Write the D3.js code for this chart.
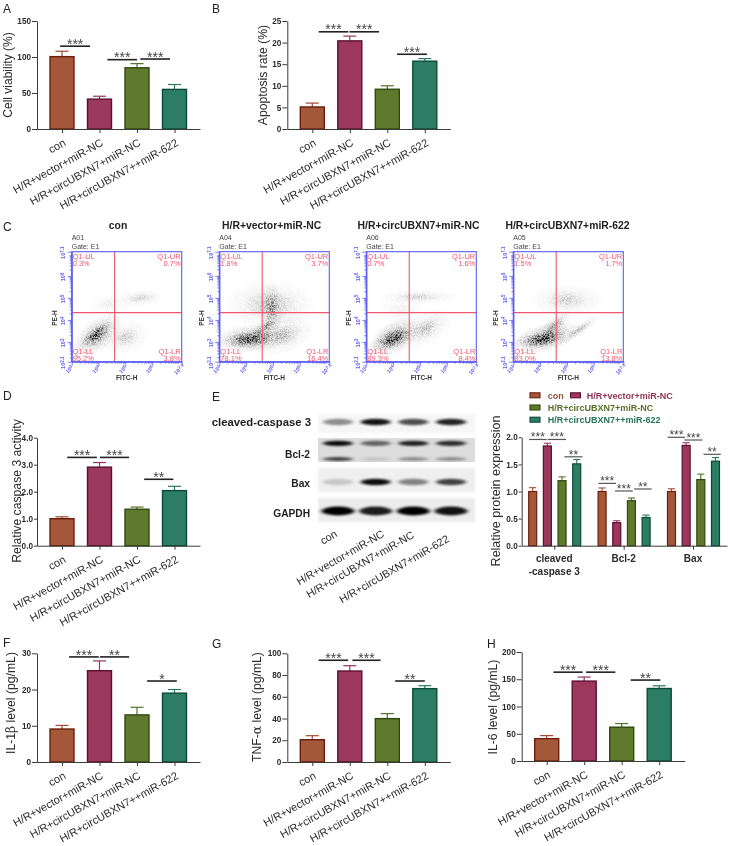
<!DOCTYPE html>
<html><head><meta charset="utf-8">
<script src="https://cdn.jsdelivr.net/npm/d3@7/dist/d3.min.js"></script>
<style>
html,body{margin:0;padding:0;background:#fff}
svg{display:block;filter:blur(0.4px)}
text{font-family:"Liberation Sans",Arial,sans-serif}
</style></head><body><svg id="c" width="730" height="846"></svg>
<script>
const categories=["con","H/R+vector+miR-NC","H/R+circUBXN7+miR-NC","H/R+circUBXN7++miR-622"];
const flowTitles=["con","H/R+vector+miR-NC","H/R+circUBXN7+miR-NC","H/R+circUBXN7+miR-622"];
const blotLabels=["con","H/R+vector+miR-NC","H/R+circUBXN7+miR-NC","H/R+circUBXN7+miR-622"];
const fills=["#a5573a","#9b385c","#5f7a2c","#2b7e63"];
const strokes=["#6b1f0c","#5c1030","#2e4a0e","#0b4a37"];
const errColors=["#a04a30","#96355f","#55712a","#2a7a60"];

const viabilityVals=[100.5,41.5,85,55], viabilityErr=[7.5,4,5.8,6.8];
const apoptosisVals=[5.1,20.4,9.2,15.7], apoptosisErr=[0.9,1.1,0.8,0.6];
const caspaseVals=[1.0,2.91,1.35,2.04], caspaseErr=[0.07,0.17,0.08,0.16];
const il1Vals=[9.1,25.2,13,19], il1Err=[1,2.7,2.1,1];
const tnfVals=[20.5,83.7,39.9,67.5], tnfErr=[3.7,4.9,4.6,2.7];
const il6Vals=[41,146.6,62,133], il6Err=[5.6,7.4,6.7,5];

const viabilityTicks=[0,50,100,150], apoptosisTicks=[0,5,10,15,20,25], caspaseTicks=[0,1,2,3,4];
const il1Ticks=[0,10,20,30], tnfTicks=[0,20,40,60,80,100], il6Ticks=[0,50,100,150,200];

// significance: from index, to index, value level, stars
const viabilitySig=[[-0.05,0.75,115,"***"],[1.21,2.0,96.3,"***"],[2.09,2.88,97.2,"***"]];
const apoptosisSig=[[0.17,0.96,22.5,"***"],[0.99,1.78,22.5,"***"],[2.26,3.06,17.3,"***"]];
const caspaseSig=[[0.14,0.93,3.27,"***"],[1.01,1.79,3.27,"***"],[2.19,2.97,2.46,"**"]];
const il1Sig=[[0.19,0.98,29,"***"],[1.01,1.79,29,"**"],[2.27,3.06,22.35,"*"]];
const tnfSig=[[0.17,0.96,93.6,"***"],[1.07,1.82,93.6,"***"],[2.21,3.0,74.5,"**"]];
const il6Sig=[[0.18,0.96,163,"***"],[1.05,1.83,163,"***"],[2.24,3.03,148.5,"**"]];

const proteinGroups=["cleaved\n-caspase 3","Bcl-2","Bax"];
const proteinVals=[[1.0,1.84,1.2,1.51],[1.0,0.425,0.83,0.52],[1.0,1.85,1.22,1.56]];
const proteinErr=[[0.07,0.05,0.07,0.08],[0.065,0.035,0.05,0.045],[0.05,0.05,0.1,0.065]];
const proteinTicks=[0,0.5,1,1.5,2];
const proteinSig=[[-0.25,0.95,1.96,"***"],[1.02,2.27,1.96,"***"],[2.16,3.39,1.64,"**"],
 [4.48,5.68,1.15,"***"],[5.61,6.82,1.01,"***"],[6.91,8.11,1.046,"**"],
 [9.2,10.39,2.0,"***"],[10.34,11.57,1.95,"***"],[11.64,12.82,1.686,"**"]];

// western blot: lane intensities
const blotRows=[
 {name:"cleaved-caspase 3",bands:[[0.42,0.92,0.68,0.85]],bg:"#f6f6f6"},
 {name:"Bcl-2",bands:[[0.95,0.55,0.85,0.8],[0.7,0.1,0.35,0.35]],bg:"#dcdcdc"},
 {name:"Bax",bands:[[0.16,0.95,0.45,0.72]],bg:"#efefef"},
 {name:"GAPDH",bands:[[1,0.88,1,0.92]],bg:"#ececec"}];

// flow cytometry
const flowNames=["A01","A04","A06","A05"];
const flowQuadrants=[["0.3%","0.7%","95.2%","3.8%"],["1.8%","3.7%","78.1%","16.4%"],["0.7%","1.6%","89.3%","8.4%"],["1.5%","1.7%","83.0%","13.8%"]];
const flowDecades=[3,4,5,6,7.1], flowDecadesY=[2.1,3,4,5,6,7.1];
// cloud: cx, cy, rx, ry (decades), angle, density
const flowClouds=[
 [[3.95,3.3,1.15,0.7,-38,0.75],[3.9,3.35,0.75,0.25,-38,1],[5.0,3.2,1.0,0.75,-20,0.25],[5.55,5.0,0.95,0.38,-5,0.25],[4.4,4.7,0.9,0.55,0,0.1]],
 [[4.27,3.17,1.5,0.65,-5,0.85],[4.02,3.09,0.95,0.38,-3,1],[4.75,3.7,0.85,0.38,-38,0.5],[4.95,4.54,0.42,1.25,0,0.5],[4.9,4.7,1.75,1.15,0,0.32],[5.4,3.3,1.25,0.85,-20,0.3]],
 [[4.05,3.2,1.1,0.72,-30,0.85],[4.0,3.12,0.85,0.42,-20,1],[5.2,3.6,1.15,0.75,-30,0.3],[4.9,5.05,1.55,0.35,0,0.25],[4.3,4.4,1.0,0.7,0,0.1]],
 [[4.2,3.2,1.35,0.65,-15,0.85],[4.0,3.08,0.95,0.36,-5,1],[4.55,3.75,0.78,0.38,-40,0.5],[5.45,3.55,1.0,0.26,-35,0.38],[5.0,4.9,1.45,0.75,0,0.25]]];

const legendEntries=[[0,0,0],[1,1,0],[2,0,1],[3,0,2]];
const panelLetters=[["A",3,13],["B",212,13],["C",3,231],["D",3,400],["E",212,401],["F",3,647],["G",212,648],["H",487,648]];

const svg=d3.select("#c");
const AX="#3a3a3a", TXT="#2b2b2b";

const defs=svg.append("defs");
const grain=defs.append("filter").attr("id","grain").attr("x","-5%").attr("y","-5%").attr("width","110%").attr("height","110%");
grain.append("feTurbulence").attr("type","fractalNoise").attr("baseFrequency","1.5").attr("numOctaves",1).attr("seed",4).attr("result","n");
grain.append("feColorMatrix").attr("in","n").attr("type","matrix")
 .attr("values","0 0 0 0 0 0 0 0 0 0 0 0 0 0 0 0 0 0 4 -1.6").attr("result","t");
grain.append("feComposite").attr("in","SourceGraphic").attr("in2","t").attr("operator","arithmetic")
 .attr("k1",0.8).attr("k2",0.34).attr("k3",0).attr("k4",0).attr("result","c");
grain.append("feGaussianBlur").attr("in","c").attr("stdDeviation",0.3);
const cg=defs.append("radialGradient").attr("id","cloud");
[[0,1],[0.25,0.6],[0.55,0.18],[1,0]].forEach(([o,a])=>cg.append("stop").attr("offset",o).attr("stop-color","#000").attr("stop-opacity",a));
defs.append("filter").attr("id","bandBlur").attr("x","-30%").attr("y","-100%").attr("width","160%").attr("height","300%")
 .append("feGaussianBlur").attr("stdDeviation","2.2 1.1");
defs.append("filter").attr("id","bgBlur").attr("x","-10%").attr("y","-20%").attr("width","120%").attr("height","140%")
 .append("feGaussianBlur").attr("stdDeviation","1");

function sig(g,x,y,list,fs,offset,lw,col){
 list.forEach(([a,b,v,s])=>{
  g.append("line").attr("x1",x(a)).attr("x2",x(b)).attr("y1",y(v)).attr("y2",y(v)).attr("stroke",col).attr("stroke-width",lw);
  g.append("text").attr("x",(x(a)+x(b))/2).attr("y",y(v)+offset).attr("text-anchor","middle")
   .attr("font-size",fs).attr("fill","#444").text(s);
 });
}
function styleAxis(a){
 a.selectAll("path,line").attr("stroke",AX).attr("stroke-width",1);
 a.selectAll("text").attr("fill",TXT).attr("font-family",'"Liberation Sans",Arial,sans-serif');
}
function barPanel(o){
 const x=d3.scaleLinear().domain([0,3]).range([o.c0,o.c0+112.5]);
 const y=d3.scaleLinear().domain([0,o.max]).range([o.bottom,o.top]);
 const g=svg.append("g");
 const bw=24, cap=6.5;
 o.vals.forEach((v,i)=>{
  g.append("line").attr("x1",x(i)).attr("x2",x(i)).attr("y1",y(v)).attr("y2",y(v+o.err[i])).attr("stroke",errColors[i]).attr("stroke-width",1.2);
  g.append("line").attr("x1",x(i)-cap).attr("x2",x(i)+cap).attr("y1",y(v+o.err[i])).attr("y2",y(v+o.err[i])).attr("stroke",errColors[i]).attr("stroke-width",1.2);
  g.append("rect").attr("x",x(i)-bw/2).attr("width",bw).attr("y",y(v)).attr("height",y(0)-y(v))
   .attr("fill",fills[i]).attr("stroke",strokes[i]).attr("stroke-width",1.4);
 });
 const ay=g.append("g").attr("transform",`translate(${o.c0-25},0)`)
  .call(d3.axisLeft(y).tickValues(o.ticks).tickSize(o.tick||5).tickSizeOuter(0).tickPadding(1));
 styleAxis(ay); ay.selectAll("text").attr("font-size",8.2).attr("font-weight","bold");
 const xa=d3.scaleLinear().domain([-25/37.5,3+25.5/37.5]).range([o.c0-25,o.c0+138]);
 const ax=g.append("g").attr("transform",`translate(0,${o.bottom})`)
  .call(d3.axisBottom(xa).tickValues([0,1,2,3]).tickSize(4).tickSizeOuter(0).tickFormat(d=>categories[d]));
 styleAxis(ax);
 ax.selectAll("text").attr("font-size",11).attr("text-anchor","end").attr("dy",0).attr("y",0)
  .attr("transform","translate(4,16) rotate(-29)");
 sig(g,x,y,o.sig,14,2.6,1.6,"#222");
 const t=g.append("text").attr("transform",`translate(${o.tx},${o.ty}) rotate(-90)`).attr("text-anchor","middle")
  .attr("font-size",o.fs||12.2).attr("fill",TXT);
 o.title.forEach(p=>{ t.append("tspan").text(p[0]).attr("font-family",p[1]?'"DejaVu Serif",serif':null); });
}
barPanel({c0:62,top:21,bottom:129,max:150,vals:viabilityVals,err:viabilityErr,ticks:viabilityTicks,sig:viabilitySig,title:[["Cell viability (%)"]],tx:12,ty:75,fs:12});
barPanel({c0:312.3,top:21,bottom:129,max:25,vals:apoptosisVals,err:apoptosisErr,ticks:apoptosisTicks,sig:apoptosisSig,title:[["Apoptosis rate (%)"]],tx:267,ty:75});
barPanel({c0:62,top:437.7,bottom:545.7,max:4,vals:caspaseVals,err:caspaseErr,ticks:caspaseTicks,sig:caspaseSig,title:[["Relative caspase 3 activity"]],tx:21,ty:491,tick:3});
barPanel({c0:62,top:653.3,bottom:762,max:30,vals:il1Vals,err:il1Err,ticks:il1Ticks,sig:il1Sig,title:[["IL-1"],["β",1],[" level (pg/mL)"]],tx:15,ty:703});
barPanel({c0:312.3,top:653.3,bottom:762,max:100,vals:tnfVals,err:tnfErr,ticks:tnfTicks,sig:tnfSig,title:[["TNF-"],["α",1],[" level (pg/mL)"]],tx:261,ty:707});
barPanel({c0:546.7,top:652,bottom:761,max:200,vals:il6Vals,err:il6Err,ticks:il6Ticks,sig:il6Sig,title:[["IL-6 level (pg/mL)"]],tx:497,ty:707});

// panel E chart
(function(){
 const groupStep=4.73;
 const x=d3.scaleLinear().domain([0,1]).range([532.7,547.37]);
 const y=d3.scaleLinear().domain([0,2]).range([545.7,437.3]);
 const g=svg.append("g"), bw=8, cap=3.6;
 proteinVals.forEach((row,gi)=>row.forEach((v,i)=>{
  const cx=x(gi*groupStep+i), e=proteinErr[gi][i];
  g.append("line").attr("x1",cx).attr("x2",cx).attr("y1",y(v)).attr("y2",y(v+e)).attr("stroke",errColors[i]).attr("stroke-width",1.1);
  g.append("line").attr("x1",cx-cap).attr("x2",cx+cap).attr("y1",y(v+e)).attr("y2",y(v+e)).attr("stroke",errColors[i]).attr("stroke-width",1.1);
  g.append("rect").attr("x",cx-bw/2).attr("width",bw).attr("y",y(v)).attr("height",y(0)-y(v))
   .attr("fill",fills[i]).attr("stroke",strokes[i]).attr("stroke-width",1.2);
 }));
 const ay=g.append("g").attr("transform","translate(521.7,0)").call(d3.axisLeft(y).tickValues(proteinTicks).tickSize(3).tickSizeOuter(0).tickPadding(1).tickFormat(d3.format(".1f")));
 styleAxis(ay); ay.selectAll("text").attr("font-size",8.2).attr("font-weight","bold");
 const xa=d3.scaleLinear().domain([(521.7-532.7)/14.67,(727-532.7)/14.67]).range([521.7,727]);
 const ax=g.append("g").attr("transform","translate(0,545.7)")
  .call(d3.axisBottom(xa).tickValues([0,1,2].map(k=>k*groupStep+1.47)).tickSize(4).tickSizeOuter(0).tickFormat(""));
 styleAxis(ax);
 proteinGroups.forEach((n,k)=>{
  n.split("\n").forEach((line,j)=>{
   g.append("text").attr("x",xa(k*groupStep+1.47)).attr("y",561.5+j*13).attr("text-anchor","middle")
    .attr("font-size",10).attr("font-weight","bold").attr("fill",TXT).text(line);
  });
 });
 sig(g,x,y,proteinSig,12,2,1.2,"#555");
 g.append("text").attr("transform","translate(500,491) rotate(-90)").attr("text-anchor","middle").attr("font-size",12.5).attr("fill",TXT).text("Relative protein expression");
 // legend
 const lx=d3.scalePoint().domain([0,1]).range([530,570.5]);
 const ly=d3.scalePoint().domain([0,1,2]).range([395.3,419.7]);
 const tx=[547.7,586.7];
 legendEntries.forEach(([s,c,r])=>{
  g.append("rect").attr("x",lx(c)).attr("y",ly(r)-2.5).attr("width",10).attr("height",5).attr("fill",fills[s]).attr("stroke",strokes[s]).attr("stroke-width",1.1);
  g.append("text").attr("x",tx[c]).attr("y",ly(r)+3.3).attr("font-size",9).attr("font-weight","bold").attr("fill",d3.color(fills[s]).darker(0.25)).text(categories[s]);
 });
})();

// blots
(function(){
 const lane=d3.scaleLinear().domain([0,3]).range([338,451]);
 const g=svg.append("g");
 const rowTop=[414,438,468,498], rowH=[19,24,24,24];
 const bandY=[[422],[443.3,459],[482],[511]];
 const labelY=[426,458,487,517];
 const labelFs=[11.3,10.2,10.2,10.2];
 const bandH=[[3.3],[2.6,1.9],[3.2],[4.4]];
 blotRows.forEach((r,ri)=>{
  g.append("rect").attr("x",318).attr("y",rowTop[ri]).attr("width",157).attr("height",rowH[ri]).attr("fill",r.bg)
   .attr("filter",ri===1?null:"url(#bgBlur)");
  r.bands.forEach((b,k)=>b.forEach((v,i)=>{
   g.append("ellipse").attr("cx",lane(i)).attr("cy",bandY[ri][k]).attr("rx",ri===3?16.5:15).attr("ry",bandH[ri][k]).attr("fill","#000").attr("opacity",v).attr("filter","url(#bandBlur)");
  }));
  g.append("text").attr("x",ri===0?311:310).attr("y",labelY[ri]).attr("text-anchor","end").attr("font-size",labelFs[ri]).attr("font-weight","bold").attr("fill","#222").text(r.name);
 });
 const ex=[338,385,415,450], ey=[536,536,537,541];
 blotLabels.forEach((n,i)=>{
  g.append("text").attr("transform",`translate(${ex[i]},${ey[i]}) rotate(-30)`).attr("text-anchor","end").attr("font-size",10.8).attr("fill",TXT).text(n);
 });
})();

// flow plots
const flowLeft=[71.7,219.3,366.3,513.3], flowTitleX=[118,271.7,418.5,567.5];
flowLeft.forEach((left,p)=>{
 const top=251.7, size=110;
 const x=d3.scaleLinear().domain([3,7.1]).range([left,left+size]);
 const y=d3.scaleLinear().domain([2.1,7.1]).range([top+size,top]);
 const g=svg.append("g");
 const cid="clip"+p;
 defs.append("clipPath").attr("id",cid).append("rect").attr("x",left).attr("y",top).attr("width",size).attr("height",size);
 const cl=g.append("g").attr("clip-path",`url(#${cid})`).append("g").attr("filter","url(#grain)");
 flowClouds[p].forEach(([cx,cy,rx,ry,a,d])=>{
  cl.append("ellipse").attr("transform",`translate(${x(cx)},${y(cy)}) rotate(${a})`)
   .attr("rx",x(cx+rx)-x(cx)).attr("ry",y(cy)-y(cy+ry)).attr("fill","url(#cloud)").attr("opacity",d);
 });
 const red="#f2556f", blue="#5a5cf0";
 g.append("line").attr("x1",x(4.6)).attr("x2",x(4.6)).attr("y1",top).attr("y2",top+size).attr("stroke",red).attr("stroke-width",1.1);
 g.append("line").attr("x1",left).attr("x2",left+size).attr("y1",y(4.33)).attr("y2",y(4.33)).attr("stroke",red).attr("stroke-width",1.1);
 g.append("rect").attr("x",left).attr("y",top).attr("width",size).attr("height",size).attr("fill","none").attr("stroke",blue).attr("stroke-width",1.1);
 const minors=dom=>{const o=[];for(let n=Math.floor(dom[0]);n<=7;n++)for(let k=2;k<=9;k++){const v=n+Math.log10(k);if(v>dom[0]&&v<dom[1])o.push(v);}return o;};
 const ax1=g.append("g").attr("transform",`translate(0,${top+size})`).call(d3.axisBottom(x).tickValues(minors([3,7.1])).tickSize(2).tickSizeOuter(0).tickFormat(""));
 const ax2=g.append("g").attr("transform",`translate(0,${top+size})`).call(d3.axisBottom(x).tickValues(flowDecades).tickSize(4).tickSizeOuter(0).tickFormat(""));
 const ay1=g.append("g").attr("transform",`translate(${left},0)`).call(d3.axisLeft(y).tickValues(minors([2.1,7.1])).tickSize(2).tickSizeOuter(0).tickFormat(""));
 const ay2=g.append("g").attr("transform",`translate(${left},0)`).call(d3.axisLeft(y).tickValues(flowDecadesY).tickSize(4).tickSizeOuter(0).tickFormat(""));
 [ax1,ax2,ay1,ay2].forEach(a=>a.selectAll("path,line").attr("stroke",blue).attr("stroke-width",0.8));
 const tick=(tx,ty,v,rot)=>{
  const t=g.append("text").attr("transform",`translate(${tx},${ty}) rotate(${rot})`).attr("text-anchor","middle").attr("font-size",5.5).attr("font-weight","bold").attr("fill",blue);
  t.append("tspan").text("10");
  t.append("tspan").attr("dy",-1.6).attr("font-size",4.5).text(v);
 };
 flowDecades.forEach(v=>tick(x(v)-1,top+size+9,v,-45));
 flowDecadesY.forEach(v=>tick(left-6.5,y(v)+1,v,-90));
 const q=flowQuadrants[p];
 [["Q1-UL",q[0],left+1,256.3+2.6,"start"],["Q1-UR",q[1],left+size-1,256.3+2.6,"end"],["Q1-LL",q[2],left+1,351.3+2.6,"start"],["Q1-LR",q[3],left+size-1,351.3+2.6,"end"]]
 .forEach(([a,b,tx,ty,an])=>{
  g.append("text").attr("x",tx).attr("y",ty).attr("text-anchor",an).attr("font-size",7.5).attr("fill",red).text(a);
  g.append("text").attr("x",tx).attr("y",ty+7.4).attr("text-anchor",an).attr("font-size",7.5).attr("fill",red).text(b);
 });
 g.append("text").attr("x",left).attr("y",240).attr("font-size",7).attr("fill","#444").text(flowNames[p]);
 g.append("text").attr("x",left).attr("y",249).attr("font-size",7).attr("fill","#444").text("Gate: E1");
 g.append("text").attr("x",left+55).attr("y",380).attr("text-anchor","middle").attr("font-size",6.5).attr("font-weight","bold").attr("fill","#333").text("FITC-H");
 g.append("text").attr("transform",`translate(${left-15},318) rotate(-90)`).attr("text-anchor","middle").attr("font-size",6.5).attr("font-weight","bold").attr("fill","#333").text("PE-H");
 g.append("text").attr("x",flowTitleX[p]).attr("y",229).attr("text-anchor","middle").attr("font-size",10.4).attr("font-weight","bold").attr("fill","#222").text(flowTitles[p]);
});

panelLetters.forEach(([s,px,py])=>svg.append("text").attr("x",px).attr("y",py).attr("font-size",12).attr("fill","#222").text(s));
</script></body></html>
